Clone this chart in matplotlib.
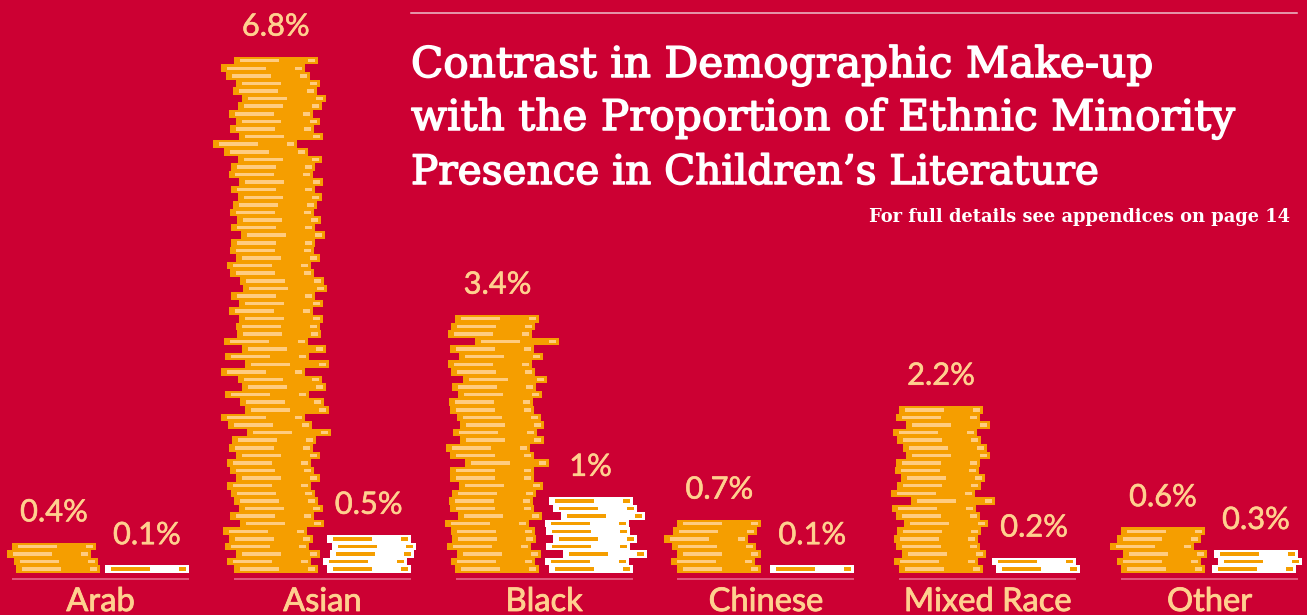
import matplotlib
matplotlib.use('Agg')
import matplotlib.pyplot as plt
import matplotlib.patheffects as pe

categories = ['Arab', 'Asian', 'Black', 'Chinese', 'Mixed Race', 'Other']
population_pct = [0.4, 6.8, 3.4, 0.7, 2.2, 0.6]
literature_pct = [0.1, 0.5, 1.0, 0.1, 0.2, 0.3]
value_labels_population = ['0.4%', '6.8%', '3.4%', '0.7%', '2.2%', '0.6%']
value_labels_literature = ['0.1%', '0.5%', '1%', '0.1%', '0.2%', '0.3%']

# sideways shift of each book in a pile, listed from the top book down
population_shift = [
    [0, -5, 2, 4],
    [0, -13, -8, 2, -1, 8, 4, -5, 2, -4, 5, -21, -10, 4, -3, -5, 5, -3, 4, -1, -4, 3, -3,
     7, -3, -4, 2, -7, -4, 6, 9, -3, 5, -5, 5, 2, 3, -10, 8, -9, 11, -13, 4, 8, -9,
     6, 11, -13, -6, 13, -2, -5, 2, -7, -4, 2, -7, -3, 0, 5, -4, 6, -11, -5, -9, 2, -7, 0],
    [-1, -5, -8, 19, -6, 3, -8, -5, 7, -4, 2, -7, -6, 1, 4, -3, 4, -10, -6, 9, -6, -6,
     3, -4, -7, -6, 2, -11, -5, -4, -9, 1, -5, -1],
    [0, -4, -13, -5, 0, -6, 0],
    [0, -3, 7, -6, -2, 4, 7, -3, -4, 2, -2, -8, 12, -7, -3, 5, -2, -5, -3, 3, -5, 0],
    [0, -4, -11, 2, -4, 0],
]
literature_shift = [
    [0],
    [0, 5, 3, -4, 0],
    [0, 4, 12, -4, -3, 4, -3, 14, -4, 0],
    [0],
    [0, 4],
    [0, 4, -2],
]

RED = '#CC0033'
ORANGE = '#F59E00'
PALE = '#FFCC80'
LABEL = '#FFD08F'
WHITE = '#FFFFFF'

GROUP_START = 12
GROUP_STEP = 221.8
BOOK_W = 84
SECOND_PILE = 93
RULE_W = 177
PX_PER_PCT = 75.9
BOOK_H = 0.1


def draw_pile(ax, x0, value, shifts, body, strip):
    # one book per 0.1 percent, stacked up from zero
    n = round(value / BOOK_H)
    for i in range(n):
        left = x0 + shifts[n - 1 - i]
        y = i * BOOK_H
        ax.barh(y, BOOK_W, left=left, height=BOOK_H, align='edge', color=body, linewidth=0, zorder=2)
        mid = y + BOOK_H / 2
        for dx, w in [(6, 39), (74, 7)]:
            ax.barh(mid, w, left=left + dx, height=BOOK_H * .46, color=strip, linewidth=0, zorder=3)


def thick(width, color):
    return [pe.withStroke(linewidth=width, foreground=color)]


def value_label(ax, x, value, text):
    ax.annotate(text, (x, value), xytext=(0, 15.3), textcoords='offset points', ha='center',
                va='baseline', color=LABEL, fontsize=22.2, family='Lato', path_effects=thick(.4, LABEL))


fig = plt.figure(figsize=(13.07, 6.15), dpi=100, facecolor=RED)
ax = fig.add_axes([0, 0, 1, 1])
ax.set_xlim(0, 1307)
ax.set_ylim(-42 / PX_PER_PCT, 573 / PX_PER_PCT)
ax.axis('off')

for i, cat in enumerate(categories):
    x0 = GROUP_START + i * GROUP_STEP
    draw_pile(ax, x0, population_pct[i], population_shift[i], ORANGE, PALE)
    draw_pile(ax, x0 + SECOND_PILE, literature_pct[i], literature_shift[i], WHITE, ORANGE)
    value_label(ax, x0 + BOOK_W / 2, population_pct[i], value_labels_population[i])
    value_label(ax, x0 + SECOND_PILE + BOOK_W / 2, literature_pct[i], value_labels_literature[i])
    ax.plot([x0, x0 + RULE_W], [-6 / PX_PER_PCT] * 2, color='#EB6E90', linewidth=1.1, solid_capstyle='butt')
    ax.text(x0 + RULE_W / 2, -38 / PX_PER_PCT, cat, ha='center', va='baseline', color=LABEL,
            fontsize=23.5, family='Lato', path_effects=thick(.6, LABEL))

# heading block, placed in pixels from the top-left corner
fig.add_artist(plt.Line2D([411 / 1307, 1297 / 1307], [1 - 13 / 615] * 2, color='#EDBFCB', linewidth=1.1))
title_lines = ['Contrast in Demographic Make-up',
               'with the Proportion of Ethnic Minority',
               'Presence in Children\u2019s Literature']
for line, base, size in zip(title_lines, [77, 130, 184], [30.4, 30.4, 29.2]):
    fig.text(411 / 1307, 1 - base / 615, line, color=WHITE, fontsize=size, family='DejaVu Serif',
             ha='left', va='baseline', path_effects=thick(1.1, WHITE))
fig.text(1290 / 1307, 1 - 222 / 615, 'For full details see appendices on page 14', color=WHITE,
         fontsize=12.9, family='DejaVu Serif', weight='bold', ha='right', va='baseline')

fig.savefig('out.png', dpi=100, facecolor=RED)
